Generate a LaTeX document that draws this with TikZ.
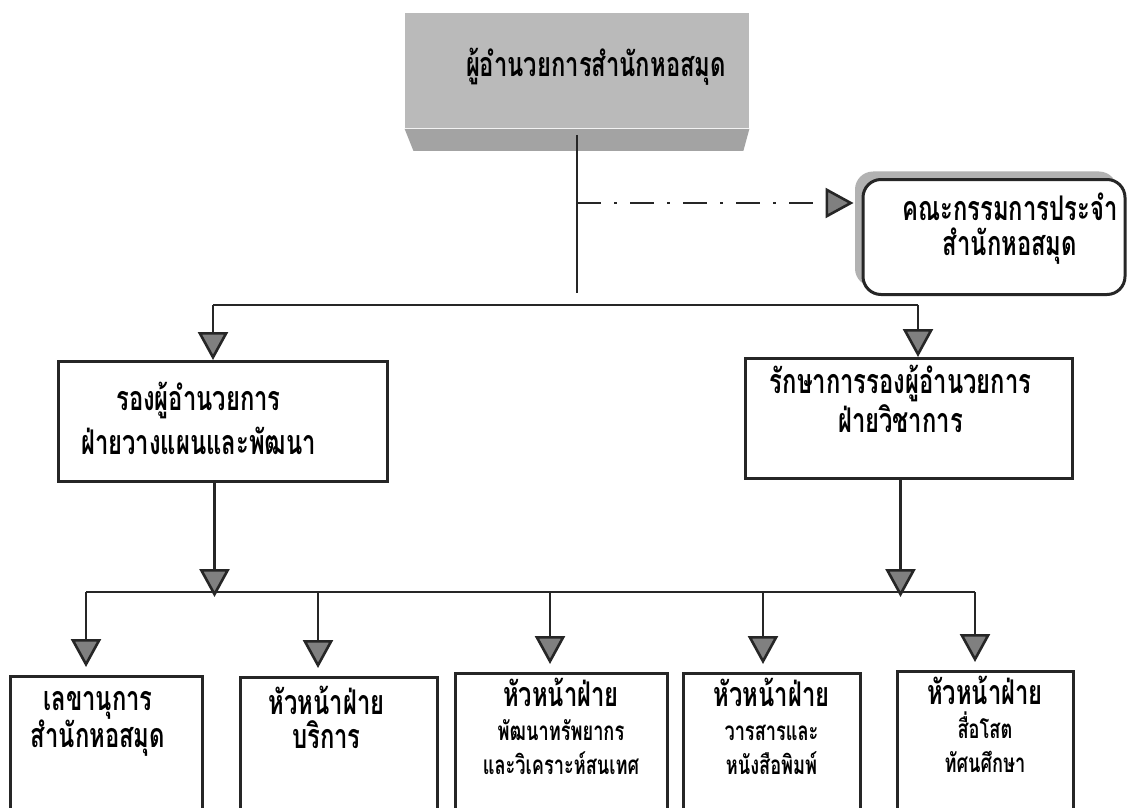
\documentclass[tikz,border=0pt]{standalone}
\usepackage{fontspec}
\newfontfamily\thaifont[Script=Thai,FakeStretch=0.7]{Loma}
\usetikzlibrary{positioning,arrows.meta,shadows}

\newcommand\subline{\fontsize{13}{13}\selectfont}

\begin{document}
\begin{tikzpicture}[x=0.5pt,y=-0.5pt]
\tikzstyle{unit}=[draw=black!85,line width=1.5pt,rectangle,fill=white,inner sep=0pt,anchor=north]
\tikzstyle{txt}=[align=center,inner sep=0pt,font=\thaifont\bfseries\fontsize{17}{16}\selectfont]
\tikzstyle{link}=[draw=black!85,line width=1.3pt]
\tikzstyle{arr}=[link,-{Triangle[width=15pt,length=14pt,fill=black!50]}]
\useasboundingbox (0,0) rectangle (1130,808);
\clip (0,0) rectangle (1130,808);
\fill[white] (0,0) rectangle (1130,808);

% director and committee
\node[fill=black!27,minimum width=172pt,minimum height=57.5pt,inner sep=0pt,anchor=north] (dir) at (577,13) {};
\fill[black!36] (dir.south west) -- (dir.south east) -- ++(-6,22) -- ++(-330,0) -- cycle;
\node[txt] (dirtxt) at (596,67) {ผู้อำนวยการสำนักหอสมุด};

\node[unit,rounded corners=9pt,minimum width=131pt,minimum height=57.5pt,
  general shadow={fill=black!30,shadow xshift=-4pt,shadow yshift=4pt}] (cmte) at (994,178) {};
\node[txt,below=7pt of cmte.north,xshift=8pt] (cmtetxt) {คณะกรรมการประจำ\\[1.5pt]สำนักหอสมุด};

% deputies
\node[unit,minimum width=164.5pt,minimum height=60pt] (vp1) at (222.5,360) {};
\node[unit,minimum width=163.5pt,minimum height=60pt] (vp2) at (908.5,357) {};
\node[txt,below=11pt of vp1.north,xshift=-12pt] (vp1txt) {รองผู้อำนวยการ\\[3pt]ฝ่ายวางแผนและพัฒนา};
\node[txt,below=4pt of vp2.north,xshift=-4pt] (vp2txt) {รักษาการรองผู้อำนวยการ\\[0pt]ฝ่ายวิชาการ};

% heads
\node[unit,minimum width=96pt,minimum height=80pt] (b1) at (106,675) {};
\node[unit,minimum width=98.5pt,minimum height=80pt] (b2) at (338.5,676) {};
\node[unit,minimum width=106pt,minimum height=80pt] (b3) at (561,672) {};
\node[unit,minimum width=88.5pt,minimum height=80pt] (b4) at (771.5,672) {};
\node[unit,minimum width=88pt,minimum height=80pt] (b5) at (985,670) {};

\node[txt,below=8pt of b1.north,xshift=-4pt] (b1txt) {เลขานุการ\\[-1pt]สำนักหอสมุด};
\node[txt,below=5pt of b2.north,xshift=-6pt] (b2txt) {หัวหน้าฝ่าย\\[1pt]บริการ};
\node[txt,below=3pt of b3.north] (b3txt) {หัวหน้าฝ่าย\\[1pt]{\subline พัฒนาทรัพยากร}\\[1pt]{\subline และวิเคราะห์สนเทศ}};
\node[txt,below=3pt of b4.north] (b4txt) {หัวหน้าฝ่าย\\[1pt]{\subline วารสารและ}\\[1pt]{\subline หนังสือพิมพ์}};
\node[txt,below=3pt of b5.north] (b5txt) {หัวหน้าฝ่าย\\[1pt]{\subline สื่อโสต}\\[1pt]{\subline ทัศนศึกษา}};

% connectors
\coordinate (stem) at (577,293);
\coordinate (dd) at (577,203);
\coordinate (bar1) at (213,305);
\coordinate (bar2) at (918,305);
\coordinate (bus1) at (86,592);
\coordinate (bus5) at (975,592);

\draw[link] ([yshift=-3pt]dir.south) -- (stem);
\draw[link,dash pattern=on 12pt off 6.5pt on 1.5pt off 6.5pt,-{Triangle[width=15pt,length=14pt,fill=black!50]},shorten >=4pt] (dd) -- (dd -| cmte.west);
\draw[link] (bar1) -- (bar2);
\draw[arr] (bar1) -- (bar1 |- vp1.north);
\draw[arr] (bar2) -- (bar2 |- vp2.north);

\draw[link] (bus1) -- (bus5);
\draw[arr,shorten >=-2.5pt] ([xshift=-4pt]vp1.south) -- ([xshift=-4pt]vp1.south |- bus1);
\draw[arr,shorten >=-2.5pt] ([xshift=-4pt]vp2.south) -- ([xshift=-4pt]vp2.south |- bus1);
\foreach \x/\b in {86/b1,318/b2,550/b3,763/b4,975/b5}
  \draw[arr,shorten >=4pt] (\x,592) -- (\x,592 |- \b.north);
\end{tikzpicture}
\end{document}
